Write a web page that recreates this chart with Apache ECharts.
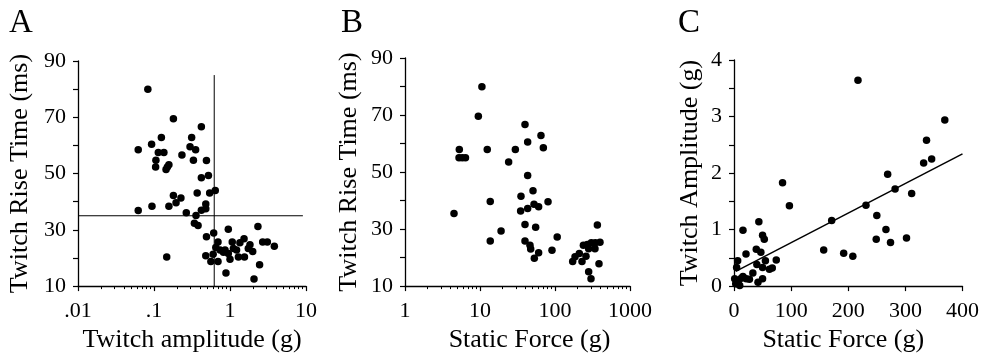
<!DOCTYPE html>
<html>
<head>
<meta charset="utf-8">
<script src="https://cdn.jsdelivr.net/npm/echarts@6/dist/echarts.min.js"></script>
<style>
  html, body { margin: 0; padding: 0; background: #fff; }
  #chart { width: 982px; height: 358px; }
</style>
</head>
<body>
<div id="chart"></div>
<script>
// panel A: twitch amplitude (g) vs twitch rise time (ms)
const ampA = [0.083, 0.18, 0.42, 0.062, 0.093, 0.125, 0.114, 0.135, 0.106, 0.105, 0.144, 0.157, 0.15, 0.233, 0.298, 0.313, 0.353, 0.33, 0.49, 0.42, 0.52, 0.37, 0.54, 0.64, 0.18, 0.226, 0.195, 0.157, 0.094, 0.062, 0.266, 0.357, 0.42, 0.48, 0.48, 0.34, 0.38, 0.147, 0.61, 0.49, 0.95, 2.33, 0.695, 1.07, 1.53, 1.35, 1.83, 2.69, 3.10, 3.83, 0.65, 0.74, 0.86, 0.95, 1.11, 1.22, 1.74, 1.99, 0.48, 0.60, 1.0, 1.29, 1.55, 0.56, 0.695, 0.885, 2.45, 2.07, 0.82]
const riseA = [80.0, 69.5, 66.6, 58.5, 60.4, 62.8, 57.5, 57.5, 54.7, 52.3, 51.4, 53.1, 52.3, 56.6, 59.5, 62.8, 58.5, 54.7, 54.6, 48.5, 49.3, 43.1, 43.1, 44.0, 42.2, 41.3, 39.6, 38.4, 38.4, 36.9, 36.1, 35.1, 37.0, 37.5, 39.2, 32.3, 31.5, 20.3, 28.9, 27.5, 30.2, 31.2, 25.7, 25.7, 26.8, 25.4, 24.7, 25.7, 25.7, 24.2, 23.7, 22.8, 22.8, 21.6, 23.4, 22.8, 23.4, 22.3, 20.8, 21.3, 19.5, 20.3, 20.3, 18.7, 18.7, 14.7, 17.6, 12.5, 22.0]
// cut-off lines drawn in panel A
const cutAmp = [[0.62, 10], [0.62, 85]]
const cutRise = [[0.01, 35], [9.1, 35]]

// panel B: static force (g) vs twitch rise time (ms)
const forceB = [4.5, 5.3, 5.25, 5.8, 6.4, 10.6, 9.5, 12.5, 13.7, 13.7, 19.1, 24.1, 29.6, 39.8, 43.2, 65, 69.9, 43.2, 35.2, 50.9, 34.8, 43.2, 52.5, 60.5, 80.7, 39.8, 55.2, 39.8, 46.4, 47.4, 60.5, 53, 91.2, 107, 172, 185, 211, 229, 259, 239, 270, 305, 345, 398, 281, 341, 367, 386, 281, 302]
const riseB = [35.5, 57.9, 55.0, 55.0, 55.0, 79.9, 69.6, 57.9, 39.7, 25.8, 29.3, 53.5, 57.9, 66.7, 60.5, 62.8, 58.5, 48.8, 41.5, 43.4, 36.3, 37.2, 38.7, 37.8, 39.6, 31.6, 30.6, 25.8, 24.3, 23.0, 21.7, 19.8, 22.6, 27.2, 18.6, 20.3, 21.4, 18.6, 20.5, 24.3, 24.6, 25.2, 25.2, 25.4, 23.1, 23.1, 31.4, 17.8, 15.0, 12.6]

// panel C: static force (g) vs twitch amplitude (g)
const forceC = [217, 369, 337, 346, 332, 269, 282, 311, 231, 250, 266, 249, 274, 302, 171, 157, 192, 208, 85, 97, 43.5, 15.7, 50, 53, 39, 47, 21, 6.4, 4.6, 55, 40, 74, 62, 67, 50, 33, 12.8, 21.4, 27, 42, 50, 3, 7, 10, 15.7, 1.2, 5]
const ampC = [3.64, 2.94, 2.58, 2.25, 2.18, 1.98, 1.72, 1.64, 1.43, 1.25, 1.00, 0.83, 0.77, 0.85, 1.16, 0.64, 0.58, 0.53, 1.83, 1.42, 1.14, 0.99, 0.90, 0.83, 0.65, 0.60, 0.57, 0.45, 0.33, 0.45, 0.38, 0.46, 0.30, 0.32, 0.33, 0.23, 0.14, 0.13, 0.12, 0.07, 0.13, 0.04, 0.07, 0.01, 0.17, 0.13, 0.10]
const fitC = [[3, 0.26], [400, 2.34]]

// tick labels
const riseTicks = [10, 30, 50, 70, 90]
const ampTickLabels = ['.01', '.1', '1', '10']
const forceLogTickLabels = ['1', '10', '100', '1000']
const ampCTicks = [0, 1, 2, 3, 4]

const FONT = 'Liberation Serif'

const zip = (xs, ys) => xs.map((x, i) => [x, ys[i]])

const axisCommon = {
  axisLine: { lineStyle: { color: '#000', width: 1.3 } },
  axisTick: { show: true, inside: false, length: 5, lineStyle: { color: '#000', width: 1.2 } },
  splitLine: { show: false },
  nameTextStyle: { color: '#000', fontFamily: FONT, fontSize: 26 }
}

const riseAxis = (gridIndex, gap) => ({
  ...axisCommon,
  gridIndex,
  type: 'value',
  min: 10,
  max: 90,
  interval: 10,
  name: 'Twitch Rise Time (ms)',
  nameLocation: 'middle',
  nameGap: gap,
  axisLabel: {
    color: '#000', fontFamily: FONT, fontSize: 22, margin: 12,
    formatter: (v) => riseTicks.includes(v) ? String(v) : ''
  }
})

// log axis, minor ticks at 2..9 of each decade
const logAxis = (gridIndex, min, max, labels, name, shift) => ({
  ...axisCommon,
  gridIndex,
  type: 'log',
  logBase: 10,
  min,
  max,
  name,
  nameLocation: 'middle',
  nameGap: 38,
  nameTextStyle: { ...axisCommon.nameTextStyle, padding: [0, 0, 0, shift] },
  minorTick: { show: true, splitNumber: 9, length: 3, lineStyle: { color: '#000', width: 1 } },
  axisLabel: {
    color: '#000', fontFamily: FONT, fontSize: 22, margin: 14,
    formatter: (v) => labels[Math.round(Math.log10(v / min))]
  }
})

const dots = (xAxisIndex, yAxisIndex, data) => ({
  type: 'scatter',
  xAxisIndex,
  yAxisIndex,
  data,
  symbol: 'circle',
  symbolSize: 7.5,
  itemStyle: { color: '#000', opacity: 1 },
  silent: true
})

const rule = (xAxisIndex, yAxisIndex, data, width) => ({
  type: 'line',
  xAxisIndex,
  yAxisIndex,
  data,
  symbol: 'none',
  lineStyle: { color: '#000', width },
  silent: true
})

const letter = (text, left) => ({
  text, left, top: 2,
  textStyle: { fontFamily: FONT, fontSize: 33, fontWeight: 'normal', color: '#000' }
})

const chart = echarts.init(document.getElementById('chart'))

const option = {
  backgroundColor: '#fff',
  animation: false,
  title: [letter('A', 4), letter('B', 336), letter('C', 673)],
  grid: [
    { left: 78, top: 61, width: 228, height: 227 },
    { left: 405, top: 58, width: 225, height: 229 },
    { left: 734, top: 60, width: 230, height: 227 }
  ],
  xAxis: [
    logAxis(0, 0.01, 10, ampTickLabels, 'Twitch amplitude (g)', 0),
    logAxis(1, 1, 1000, forceLogTickLabels, 'Static Force (g)', 24),
    {
      ...axisCommon,
      gridIndex: 2,
      type: 'value',
      min: 0,
      max: 400,
      interval: 100,
      name: 'Static Force (g)',
      nameLocation: 'middle',
      nameGap: 40,
      nameTextStyle: { ...axisCommon.nameTextStyle, padding: [0, 10, 0, 0] },
      axisLabel: { color: '#000', fontFamily: FONT, fontSize: 22, margin: 14 }
    }
  ],
  yAxis: [
    riseAxis(0, 45),
    riseAxis(1, 43),
    {
      ...axisCommon,
      gridIndex: 2,
      type: 'value',
      min: 0,
      max: 4,
      interval: 0.5,
      name: 'Twitch Amplitude (g)',
      nameLocation: 'middle',
      nameGap: 31,
      axisLabel: {
        color: '#000', fontFamily: FONT, fontSize: 22, margin: 12,
        formatter: (v) => ampCTicks.includes(v) ? String(v) : ''
      }
    }
  ],
  series: [
    rule(0, 0, cutAmp, 1),
    rule(0, 0, cutRise, 1),
    dots(0, 0, zip(ampA, riseA)),
    dots(1, 1, zip(forceB, riseB)),
    rule(2, 2, fitC, 1.5),
    dots(2, 2, zip(forceC, ampC))
  ]
}

chart.setOption(option)
</script>
</body>
</html>
